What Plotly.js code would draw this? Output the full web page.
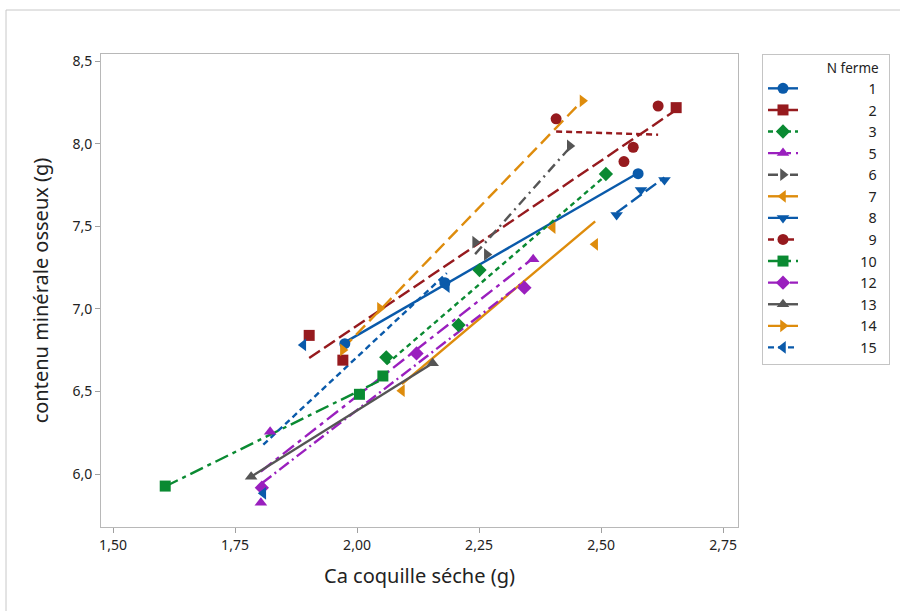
<!DOCTYPE html>
<html><head><meta charset="utf-8">
<script src="https://cdn.plot.ly/plotly-3.0.1.min.js"></script>
<style>html,body{margin:0;padding:0;background:#fff}#chart{width:900px;height:611px}</style>
</head><body><div id="chart"></div>
<script>
// ---- data ----
const groups = ["1","2","3","5","6","7","8","9","10","12","13","14","15"];
const x_f1  = [1.975, 2.180, 2.576];        const y_f1  = [6.790, 7.159, 7.820];
const x_f2  = [1.902, 1.971, 2.654];        const y_f2  = [6.840, 6.690, 8.220];
const x_f3  = [2.060, 2.208, 2.251, 2.510]; const y_f3  = [6.707, 6.903, 7.236, 7.818];
const x_f5  = [1.803, 1.822, 2.361];        const y_f5  = [5.826, 6.256, 7.301];
const x_f6  = [2.242, 2.266, 2.436];        const y_f6  = [7.405, 7.330, 7.988];
const x_f7  = [2.092, 2.401, 2.488];        const y_f7  = [6.505, 7.493, 7.392];
const x_f8  = [2.532, 2.582, 2.630];        const y_f8  = [7.570, 7.721, 7.782];
const x_f9  = [2.408, 2.547, 2.566, 2.617]; const y_f9  = [8.152, 7.893, 7.980, 8.230];
const x_f10 = [1.607, 2.005, 2.053];        const y_f10 = [5.927, 6.483, 6.594];
const x_f12 = [1.805, 2.122, 2.343];        const y_f12 = [5.917, 6.731, 7.129];
const x_f13 = [1.783, 2.155];               const y_f13 = [5.984, 6.671];
const x_f14 = [1.971, 2.047, 2.462];        const y_f14 = [6.752, 7.004, 8.261];
const x_f15 = [1.808, 1.890, 2.184];        const y_f15 = [5.883, 6.782, 7.135];
const xTicks = [1.50, 1.75, 2.00, 2.25, 2.50, 2.75];
const yTicks = [6.0, 6.5, 7.0, 7.5, 8.0, 8.5];

const xs = [x_f1,x_f2,x_f3,x_f5,x_f6,x_f7,x_f8,x_f9,x_f10,x_f12,x_f13,x_f14,x_f15];
const ys = [y_f1,y_f2,y_f3,y_f5,y_f6,y_f7,y_f8,y_f9,y_f10,y_f12,y_f13,y_f14,y_f15];

// ---- styles ----
const BLUE='#0A5AAA', RED='#961A1E', GREEN='#0A8A32', PURPLE='#9A1FBE', GRAY='#555555', ORANGE='#DE8C0C';
const colors  = [BLUE, RED, GREEN, PURPLE, GRAY, ORANGE, BLUE, RED, GREEN, PURPLE, GRAY, ORANGE, BLUE];
const symbols = ['circle','square','diamond','triangle-up','triangle-right','triangle-left','triangle-down',
                 'circle','square','diamond','triangle-up','triangle-right','triangle-left'];
const dashes  = ['solid','13px,5px','5px,4px','14px,5px,4px,5px','10px,5px,2px,5px','solid','13px,5px',
                 '6px,4px','14px,5px,4px,5px','12px,4px,2px,4px','solid','13px,6px','6px,4px'];

function fit(x, y){
  const n=x.length; let mx=0,my=0; for(let i=0;i<n;i++){mx+=x[i];my+=y[i];} mx/=n; my/=n;
  let sxy=0,sxx=0; for(let i=0;i<n;i++){sxy+=(x[i]-mx)*(y[i]-my); sxx+=(x[i]-mx)*(x[i]-mx);}
  const b=sxy/sxx, a=my-b*mx; const x0=Math.min(...x), x1=Math.max(...x);
  return {x:[x0,x1], y:[a+b*x0, a+b*x1]};
}
const F='\u2007';
const pad=n=>F.repeat(n);
const traces=[];
groups.forEach((g,i)=>{
  const f=fit(xs[i],ys[i]);
  traces.push({type:'scatter',mode:'lines',x:f.x,y:f.y,legendgroup:g,showlegend:false,hoverinfo:'skip',
    line:{color:colors[i],width:2.4,dash:dashes[i]}});
});
groups.forEach((g,i)=>{
  traces.push({type:'scatter',mode:'markers',x:xs[i],y:ys[i],legendgroup:g,showlegend:false,
    marker:{symbol:symbols[i],color:colors[i],size:11,line:{width:0}}});
});
groups.forEach((g,i)=>{
  const lbl=(g.length===1?pad(8):pad(7))+g;
  traces.push({type:'scatter',mode:'lines+markers',x:[null],y:[null],name:lbl,legendgroup:g,showlegend:true,
    marker:{symbol:symbols[i],color:colors[i],size:11,line:{width:0}},
    line:{color:colors[i],width:2.4,dash:dashes[i]}});
});

const L=101,R=738,T=54,B=527, W=R-L, H=B-T;
const layout={
  width:900,height:611,
  margin:{l:L,r:900-R,t:T,b:611-B,pad:0,autoexpand:false},
  paper_bgcolor:'#fff',plot_bgcolor:'#fff',
  separators:', ',
  font:{family:'Noto Sans, Open Sans, sans-serif',color:'#222'},
  showlegend:true,
  xaxis:{range:[1.4754,2.7807],tickvals:xTicks,tickformat:'.2f',ticks:'outside',ticklen:5,tickcolor:'#a0a0a0',
    showline:true,mirror:true,linecolor:'#b8b8b8',linewidth:1,showgrid:false,zeroline:false,
    tickfont:{size:14,color:'#222'},title:{text:'Ca coquille séche (g)',font:{size:20,color:'#222'},standoff:16}},
  yaxis:{range:[5.679,8.545],tickvals:yTicks,tickformat:'.1f',ticks:'outside',ticklen:5,tickcolor:'#a0a0a0',
    showline:true,mirror:true,linecolor:'#b8b8b8',linewidth:1,showgrid:false,zeroline:false,
    tickfont:{size:14,color:'#222'},title:{text:'contenu minérale osseux (g)',font:{size:20,color:'#222'},standoff:18}},
  legend:{x:(762-L)/W,xanchor:'left',y:1,yanchor:'top',bordercolor:'#c4c4c4',borderwidth:1,bgcolor:'#fff',
    font:{size:14.3,color:'#222'},tracegroupgap:0,traceorder:'normal',
    title:{text:pad(8)+'N ferme'+pad(1),font:{size:13.5,color:'#222'}}},
  shapes:[{type:'rect',xref:'paper',yref:'paper',x0:(6-L)/W,x1:(910-L)/W,y0:(B-620)/H,y1:(B-10)/H,
    line:{color:'#c8c8c8',width:1},fillcolor:'rgba(0,0,0,0)',layer:'below'}]
};
Plotly.newPlot('chart',traces,layout,{displayModeBar:false,staticPlot:true});
</script></body></html>
